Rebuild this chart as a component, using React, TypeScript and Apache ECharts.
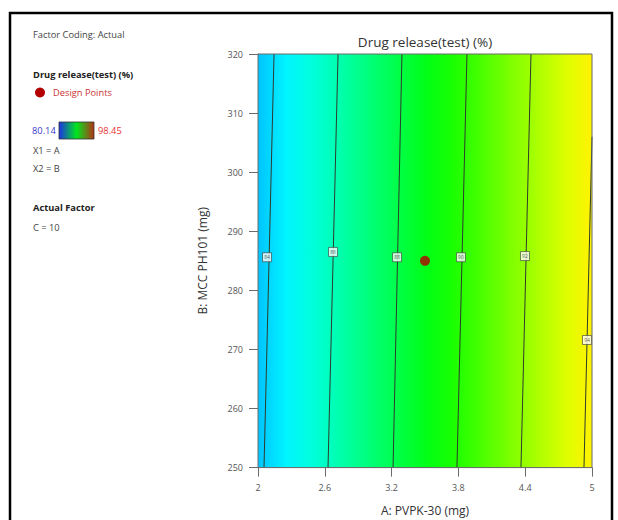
import React, { useEffect, useRef } from "react";
import * as echarts from "echarts";

// ---- data ----
const xTicks = [2, 2.6, 3.2, 3.8, 4.4, 5];
const yTicks = [250, 260, 270, 280, 290, 300, 310, 320];
// response sampled along A (middle of B range)
const fillA = [2.0, 2.25, 2.5, 2.75, 3.0, 3.25, 3.5, 3.75, 4.0, 4.25, 4.5, 4.75, 5.0];
const fillValues = [83.66, 84.53, 85.4, 86.26, 87.13, 88.0, 88.87, 89.74, 90.61, 91.48, 92.35, 93.22, 94.09];
// contour lines
const contourLevels = ["84", "86", "88", "90", "92", "94"];
const contourBottomA = [2.054, 2.629, 3.213, 3.787, 4.362, 4.928];
const contourBottomB = [250, 250, 250, 250, 250, 250];
const contourTopA = [2.144, 2.719, 3.293, 3.877, 4.452, 5.0];
const contourTopB = [320, 320, 320, 320, 320, 306];
const labelA = [2.081, 2.674, 3.249, 3.823, 4.398, 4.955];
const labelB = [285.6, 286.5, 285.6, 285.6, 285.8, 271.6];
const designPoints = [[3.5, 285]];
const colorMin = 80.14;
const colorMax = 98.45;

const FONT = "'Open Sans', 'Noto Sans', sans-serif";

const rainbow = [
  [0, 0, 255],
  [0, 255, 255],
  [0, 255, 0],
  [255, 255, 0],
  [255, 0, 0],
];
function cmap(v: number): string {
  let t = (v - colorMin) / (colorMax - colorMin);
  t = Math.max(0, Math.min(1, t));
  const s = t * (rainbow.length - 1);
  const i = Math.min(rainbow.length - 2, Math.floor(s));
  const f = s - i;
  const c = rainbow[i].map((a, k) => Math.round(a + (rainbow[i + 1][k] - a) * f));
  return `rgb(${c[0]},${c[1]},${c[2]})`;
}

export default function App() {
  const ref = useRef<HTMLDivElement>(null);
  useEffect(() => {
    if (!ref.current) return;
    const chart = echarts.init(ref.current, undefined, { renderer: "svg" });

    const fillData = fillA.slice(0, -1).map((a, i) => [a, 285, fillA[i + 1], fillValues[i], fillValues[i + 1]]);

    const contourSeries = contourLevels.map((lv, i) => ({
      type: "line",
      name: "c" + lv,
      data: [
        [contourBottomA[i], contourBottomB[i]],
        [contourTopA[i], contourTopB[i]],
      ],
      symbol: "none",
      silent: true,
      lineStyle: { color: "#2d3b2d", width: 1 },
      z: 3,
    }));

    const labelData = contourLevels.map((lv, i) => [labelA[i], labelB[i], lv]);
    const small = 9.3;

    const option: any = {
      animation: false,
      grid: {
        left: 258,
        top: 54,
        width: 334,
        height: 413.6,
        containLabel: false,
        outerBoundsMode: "none",
        show: true,
        borderColor: "#6b6b6b",
        borderWidth: 1,
        backgroundColor: "transparent",
        z: 10,
      },
      xAxis: {
        type: "value",
        min: 2,
        max: 5,
        name: "A: PVPK-30 (mg)",
        nameLocation: "middle",
        nameGap: 37,
        nameTextStyle: { fontFamily: FONT, fontSize: 12, color: "#333" },
        splitLine: { show: false },
        axisLine: { show: true, lineStyle: { color: "#6b6b6b" } },
        axisTick: { show: true, length: 9, customValues: xTicks, lineStyle: { color: "#6b6b6b" } },
        axisLabel: {
          customValues: xTicks,
          fontFamily: FONT,
          fontSize: 9,
          color: "#555",
          margin: 15,
          formatter: (v: number) => String(Math.round(v * 10) / 10),
        },
      },
      yAxis: {
        type: "value",
        min: 250,
        max: 320,
        interval: 10,
        name: "B: MCC PH101 (mg)",
        nameLocation: "middle",
        nameGap: 50,
        nameTextStyle: { fontFamily: FONT, fontSize: 12, color: "#333" },
        splitLine: { show: false },
        axisLine: { show: true, lineStyle: { color: "#6b6b6b" } },
        axisTick: { show: true, length: 9, lineStyle: { color: "#6b6b6b" } },
        axisLabel: { fontFamily: FONT, fontSize: 9, color: "#555", margin: 15 },
      },
      series: [
        {
          type: "custom",
          name: "surface",
          silent: true,
          data: fillData,
          encode: { x: [0, 2], y: 1 },
          z: 1,
          renderItem: (params: any, api: any) => {
            const a0 = api.value(0);
            const a1 = api.value(2);
            const v0 = api.value(3);
            const v1 = api.value(4);
            const p0 = api.coord([a0, 320]);
            const p1 = api.coord([a1, 250]);
            const last = params.dataIndex === fillData.length - 1;
            return {
              type: "rect",
              shape: {
                x: p0[0],
                y: p0[1],
                width: p1[0] - p0[0] + (last ? 0 : 1),
                height: p1[1] - p0[1],
              },
              style: {
                fill: new echarts.graphic.LinearGradient(0, 0, 1, 0, [
                  { offset: 0, color: cmap(v0) },
                  { offset: 1, color: cmap(v1) },
                ]),
                stroke: null,
              },
            };
          },
        },
        ...contourSeries,
        {
          type: "scatter",
          name: "labels",
          data: labelData,
          symbol: "rect",
          symbolSize: [9, 9],
          silent: true,
          itemStyle: { color: "#ffffff", borderColor: "#3a3a3a", borderWidth: 0.8 },
          label: {
            show: true,
            position: "inside",
            formatter: (p: any) => p.data[2],
            fontSize: 5,
            fontFamily: FONT,
            color: "#333",
          },
          z: 5,
        },
        {
          type: "scatter",
          name: "Design Points",
          data: designPoints,
          symbol: "circle",
          symbolSize: 10,
          silent: true,
          itemStyle: { color: "#b40000" },
          z: 6,
        },
      ],
      graphic: [
        {
          type: "rect",
          shape: { x: 10, y: 13, width: 602, height: 540 },
          style: { fill: "none", stroke: "#000", lineWidth: 2.5 },
          silent: true,
        },
        {
          type: "text",
          style: {
            text: "Drug release(test) (%)",
            x: 425,
            y: 42,
            align: "center",
            verticalAlign: "middle",
            fontFamily: FONT,
            fontSize: 13.5,
            fill: "#333",
          },
        },
        { type: "text", style: { text: "Factor Coding: Actual", x: 33, y: 34, verticalAlign: "middle", fontFamily: FONT, fontSize: small, fill: "#444" } },
        { type: "text", style: { text: "Drug release(test) (%)", x: 33, y: 74, verticalAlign: "middle", fontFamily: FONT, fontSize: small, fontWeight: "bold", fill: "#222" } },
        { type: "circle", shape: { cx: 40, cy: 92.5, r: 5 }, style: { fill: "#b40000" } },
        { type: "text", style: { text: "Design Points", x: 53, y: 92.5, verticalAlign: "middle", fontFamily: FONT, fontSize: small, fill: "#c83232" } },
        { type: "text", style: { text: "80.14", x: 32, y: 130, verticalAlign: "middle", fontFamily: FONT, fontSize: small, fill: "#3a3ac8" } },
        {
          type: "rect",
          shape: { x: 59, y: 122, width: 35, height: 17 },
          style: {
            fill: new echarts.graphic.LinearGradient(0, 0, 1, 0, [
              { offset: 0, color: "#1e32e6" },
              { offset: 0.5, color: "#00e61e" },
              { offset: 1, color: "#b43214" },
            ]),
            stroke: "#333",
            lineWidth: 0.8,
          },
        },
        { type: "text", style: { text: "98.45", x: 98, y: 130, verticalAlign: "middle", fontFamily: FONT, fontSize: small, fill: "#e63232" } },
        { type: "text", style: { text: "X1 = A", x: 33, y: 150, verticalAlign: "middle", fontFamily: FONT, fontSize: small, fill: "#444" } },
        { type: "text", style: { text: "X2 = B", x: 33, y: 168.5, verticalAlign: "middle", fontFamily: FONT, fontSize: small, fill: "#444" } },
        { type: "text", style: { text: "Actual Factor", x: 33, y: 207, verticalAlign: "middle", fontFamily: FONT, fontSize: small, fontWeight: "bold", fill: "#222" } },
        { type: "text", style: { text: "C = 10", x: 33, y: 227, verticalAlign: "middle", fontFamily: FONT, fontSize: small, fill: "#444" } },
      ],
    };
    chart.setOption(option);
    return () => chart.dispose();
  }, []);
  return (
    <div
      ref={ref}
      style={{ position: "fixed", left: 0, top: 0, width: 618, height: 520, background: "#fff" }}
    />
  );
}
